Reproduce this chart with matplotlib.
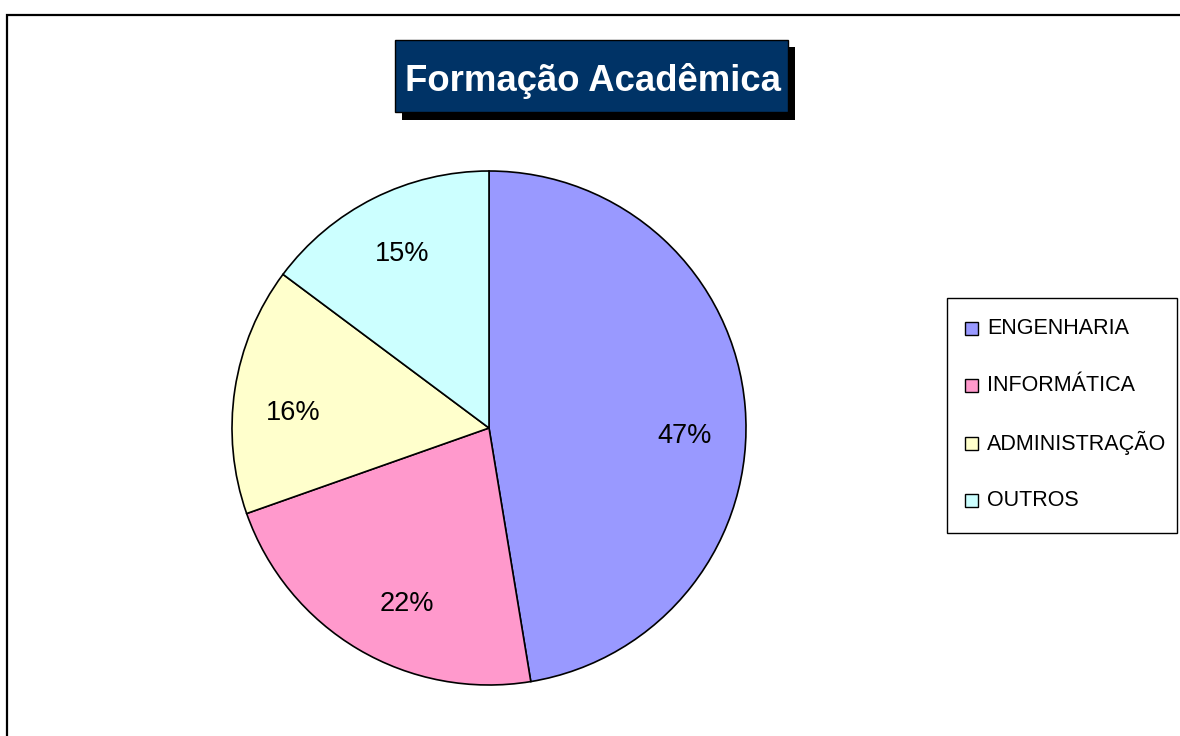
import matplotlib
matplotlib.use("Agg")
import matplotlib.pyplot as plt
from matplotlib.patches import Rectangle
from matplotlib.lines import Line2D

plt.rcParams['font.family'] = ['Liberation Sans', 'DejaVu Sans']

# ---- data ----
title = "Formação Acadêmica"
categories = ["ENGENHARIA", "INFORMÁTICA", "ADMINISTRAÇÃO", "OUTROS"]
values = [47.4, 22.2, 15.6, 14.8]
colors = ["#9999FF", "#FF99CC", "#FFFFCC", "#CCFFFF"]

# ---- layout (label placements as in the original, pixel coords) ----
label_xy = [(685, 436), (407, 604), (293, 413), (402, 254)]

W, H = 1180, 736
fig = plt.figure(figsize=(W / 100, H / 100), dpi=100)
fig.patch.set_facecolor("white")
ax = fig.add_axes([0, 0, 1, 1])

# pie in pixel-like coordinates (y axis inverted => counterclock=True draws clockwise visually)
cx, cy, r = 489, 428, 257
wedges, texts, autotexts = ax.pie(
    values, colors=colors, startangle=-90, counterclock=True,
    center=(cx, cy), radius=r,
    autopct=lambda p: f"{p:.0f}%", pctdistance=0.755,
    wedgeprops=dict(edgecolor="black", linewidth=1.2),
    textprops=dict(fontsize=19.5, color="black"),
)
for t, pos in zip(autotexts, label_xy):
    t.set_position(pos)

ax.set_xlim(0, W)
ax.set_ylim(H, 0)
ax.set_aspect("equal")
ax.axis("off")

# outer chart frame (left and top visible)
ax.add_line(Line2D([7, 7, W + 5], [H + 5, 15, 15], color="black", linewidth=1.6,
                   solid_joinstyle="miter"))

# title box with shadow
ax.add_patch(Rectangle((402, 47), 393, 73, facecolor="black", edgecolor="none", zorder=3))
ax.add_patch(Rectangle((395, 40), 393, 72, facecolor="#003366", edgecolor="black",
                       linewidth=1, zorder=4))
ax.text(593, 91, title, ha="center", va="baseline", fontsize=26.3, fontweight="bold",
        color="white", zorder=5)

# legend
ax.add_patch(Rectangle((947, 298), 230, 235, facecolor="white", edgecolor="black",
                       linewidth=1, zorder=3))
y0, dy = 328, 57.5
for i, (cat, w) in enumerate(zip(categories, wedges)):
    y = y0 + i * dy
    ax.add_patch(Rectangle((965, y - 6.5), 13, 13, facecolor=w.get_facecolor(),
                           edgecolor="black", linewidth=1, zorder=4))
    ax.text(987, y, cat, ha="left", va="center", fontsize=15.5, color="black", zorder=5)

fig.savefig("out.png", dpi=100, facecolor="white")
